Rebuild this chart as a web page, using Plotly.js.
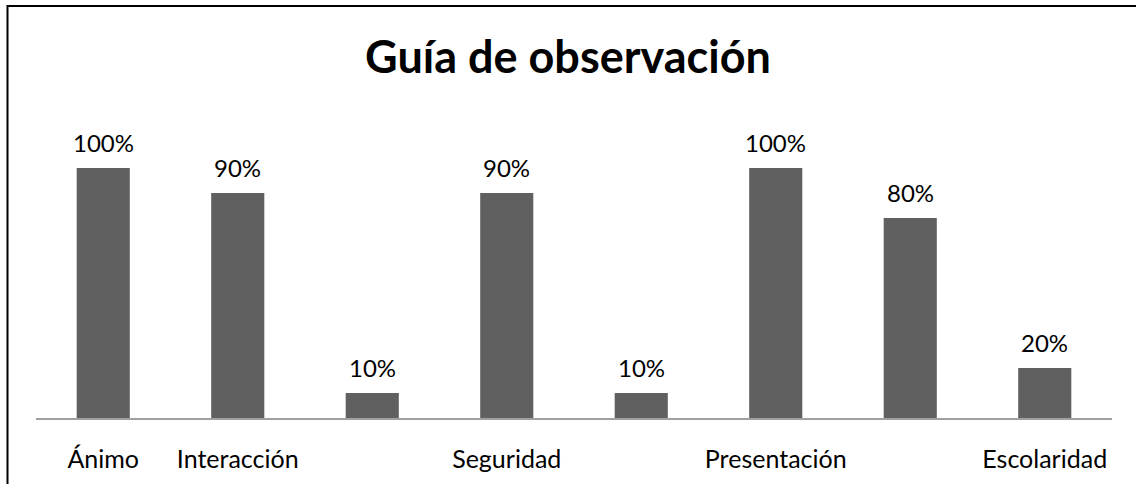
<!DOCTYPE html>
<html>
<head>
<meta charset="utf-8">
<script src="https://cdn.plot.ly/plotly-3.0.1.min.js"></script>
<style>html,body{margin:0;padding:0;background:#fff;}#chart{width:1136px;height:484px;}</style>
</head>
<body>
<div id="chart"></div>
<script>
const categories = ["Ánimo", "Interacción", "", "Seguridad", "", "Presentación", "", "Escolaridad"];
const values = [100, 90, 10, 90, 10, 100, 80, 20];
const valueLabels = ["100%", "90%", "10%", "90%", "10%", "100%", "80%", "20%"];
const chartTitle = "Guía de observación";

const positions = categories.map((c, i) => i);
const FONT = "Lato, 'Open Sans', sans-serif";

const trace = {
  type: "bar",
  x: positions,
  y: values,
  marker: { color: "#606060" },
  width: 0.395,
  hoverinfo: "skip"
};

const annotations = positions.map((p, i) => ({
  x: p, y: values[i], xref: "x", yref: "y",
  text: valueLabels[i],
  showarrow: false,
  yanchor: "bottom",
  yshift: 9,
  font: { family: FONT, size: 24, color: "#000" }
}));

const layout = {
  width: 1136, height: 484,
  margin: { l: 36, r: 24, t: 168, b: 66, pad: 0 },
  paper_bgcolor: "#fff",
  plot_bgcolor: "#fff",
  showlegend: false,
  title: {
    text: "<b>" + chartTitle + "</b>",
    font: { family: FONT, size: 45, color: "#000" },
    x: 0.5, xref: "container", xanchor: "center",
    y: 1 - 57 / 484, yref: "container", yanchor: "middle"
  },
  xaxis: {
    range: [-0.5, 7.5],
    tickvals: positions,
    ticktext: categories,
    ticks: "",
    showgrid: false,
    zeroline: false,
    showline: true,
    linecolor: "#a0a0a0",
    linewidth: 2,
    ticklabelstandoff: 18,
    tickfont: { family: FONT, size: 25, color: "#000" }
  },
  yaxis: {
    range: [0, 100],
    showgrid: false,
    zeroline: false,
    showline: false,
    showticklabels: false,
    ticks: ""
  },
  annotations: annotations,
  shapes: [{
    type: "rect", xref: "paper", yref: "paper",
    x0: (7.5 - 36) / 1076, x1: 1.2,
    y0: -1, y1: (418 - 6) / 250,
    line: { color: "#000", width: 2 },
    fillcolor: "rgba(0,0,0,0)",
    layer: "below"
  }]
};

Plotly.newPlot("chart", [trace], layout, { displayModeBar: false, staticPlot: true });
</script>
</body>
</html>
